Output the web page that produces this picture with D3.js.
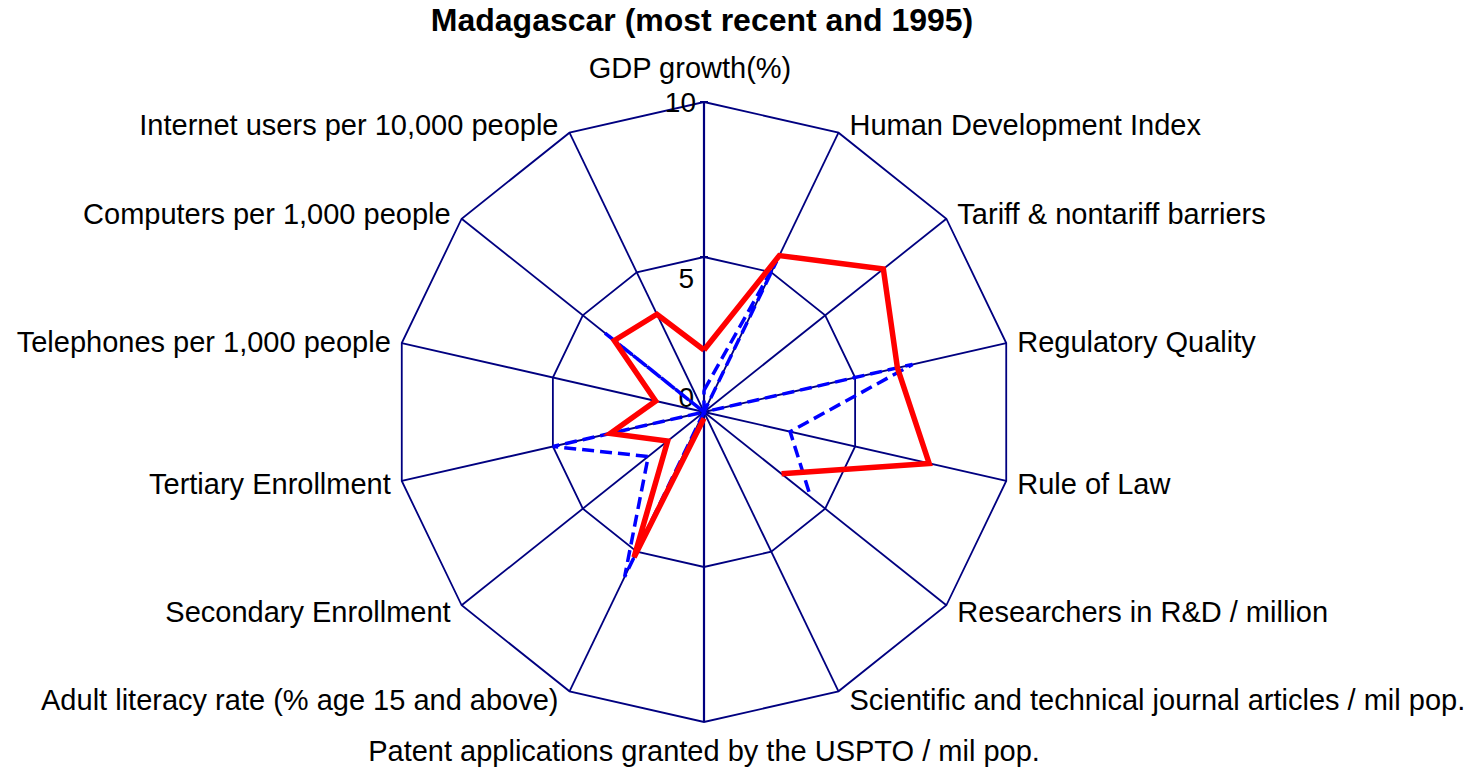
<!DOCTYPE html>
<html>
<head>
<meta charset="utf-8">
<script src="https://cdn.jsdelivr.net/npm/d3@7"></script>
<style>
    body { margin: 0; background: #ffffff; }
    svg { display: block; font-family: "Liberation Sans", Arial, sans-serif; }
</style>
</head>
<body>
<svg id="chart"></svg>
<script>
// data

const title = 'Madagascar (most recent and 1995)';

const axisLabels = [
    'GDP growth(%)',
    'Human Development Index',
    'Tariff & nontariff barriers',
    'Regulatory Quality',
    'Rule of Law',
    'Researchers in R&D / million',
    'Scientific and technical journal articles / mil pop.',
    'Patent applications granted by the USPTO / mil pop.',
    'Adult literacy rate (% age 15 and above)',
    'Secondary Enrollment',
    'Tertiary  Enrollment',
    'Telephones per 1,000 people',
    'Computers per 1,000 people',
    'Internet users per 10,000 people'
];

// most recent (red, solid) - null = no data
const recentValues = [2.0, 5.6, 7.4, 6.4, 7.45, 3.2, null, 0.2, 5.2, 1.5, 3.1, 1.6, 3.7, 3.5];

// 1995 (blue, dashed)
const values1995 = [0.7, 5.4, 0.0, 6.9, 2.85, 4.4, null, 0.0, 5.9, 2.3, 5.0, 0.0, 4.1, 0.0];

const gridLevels = [5, 10];
const tickLabels = [0, 5, 10];

// sizes
const width = 1471, height = 769;
const cx = 704, cy = 412, radius = 310;
const navy = '#000080';

const svg = d3.select('#chart')
    .attr('width', width)
    .attr('height', height);

const r = d3.scaleLinear().domain([0, 10]).range([0, radius]);
const step = 2 * Math.PI / axisLabels.length;

const g = svg.append('g')
    .attr('transform', `translate(${cx},${cy})`);

// grid rings
const ring = d3.lineRadial()
    .angle((d, i) => i * step)
    .radius(d => r(d))
    .curve(d3.curveLinearClosed);

g.selectAll('.ring')
    .data(gridLevels)
    .enter().append('path')
    .attr('class', 'ring')
    .attr('d', lvl => ring(axisLabels.map(() => lvl)))
    .attr('fill', 'none')
    .attr('stroke', navy)
    .attr('stroke-width', 1.8);

// spokes
g.selectAll('.spoke')
    .data(axisLabels)
    .enter().append('line')
    .attr('class', 'spoke')
    .attr('x1', 0).attr('y1', 0)
    .attr('x2', (d, i) => r(10) * Math.sin(i * step))
    .attr('y2', (d, i) => -r(10) * Math.cos(i * step))
    .attr('stroke', navy)
    .attr('stroke-width', (d, i) => (i === 0 || i === 7) ? 2.2 : 1.8);

// value axis ticks
g.selectAll('.tick')
    .data(tickLabels)
    .enter().append('line')
    .attr('x1', -4).attr('x2', 4)
    .attr('y1', d => -r(d)).attr('y2', d => -r(d))
    .attr('stroke', navy)
    .attr('stroke-width', 2);

g.selectAll('.tick-label')
    .data(tickLabels)
    .enter().append('text')
    .attr('class', 'tick-label')
    .attr('x', d => d === 10 ? -8 : -10)
    .attr('y', d => d === 0 ? -12 : (d === 5 ? -r(d) + 24 : -r(d) + 3))
    .attr('text-anchor', 'end')
    .attr('dominant-baseline', 'middle')
    .style('font-size', '28px')
    .attr('fill', '#000')
    .text(d => d);

// series
const line = d3.lineRadial()
    .angle(d => d.i * step)
    .radius(d => r(d.v))
    .defined(d => d.v != null);

function seriesPoints(vals)
{
    const pts = vals.map((v, i) => ({ i, v }));
    pts.push({ i: 0, v: vals[0] }); // close the loop
    return pts;
}

g.append('path')
    .attr('d', line(seriesPoints(values1995)))
    .attr('fill', 'none')
    .attr('stroke', '#0000ff')
    .attr('stroke-width', 3.5)
    .attr('stroke-dasharray', '12,6');

g.append('path')
    .attr('d', line(seriesPoints(recentValues)))
    .attr('fill', 'none')
    .attr('stroke', '#ff0000')
    .attr('stroke-width', 5.5)
    .attr('stroke-linejoin', 'miter');

// category labels
g.selectAll('.cat')
    .data(axisLabels)
    .enter().append('text')
    .attr('class', 'cat')
    .attr('x', (d, i) => {
        const s = Math.sin(i * step);
        if (i === 0) return -14;
        if (i === 7) return 0;
        return r(10) * s + (s > 0 ? 11 : -11);
    })
    .attr('y', (d, i) => {
        const c = Math.cos(i * step);
        if (i === 0) return -r(10) - 32;
        if (i === 7) return r(10) + 31;
        return -r(10) * c - c * 9 + 3;
    })
    .attr('text-anchor', (d, i) => (i === 0 || i === 7) ? 'middle' : (i < 7 ? 'start' : 'end'))
    .attr('dominant-baseline', 'middle')
    .style('font-size', '29px')
    .attr('fill', '#000')
    .text(d => d);

// title
svg.append('text')
    .attr('x', 702)
    .attr('y', 23)
    .attr('text-anchor', 'middle')
    .attr('dominant-baseline', 'middle')
    .style('font-size', '32px')
    .style('font-weight', 'bold')
    .text(title);
</script>
</body>
</html>
